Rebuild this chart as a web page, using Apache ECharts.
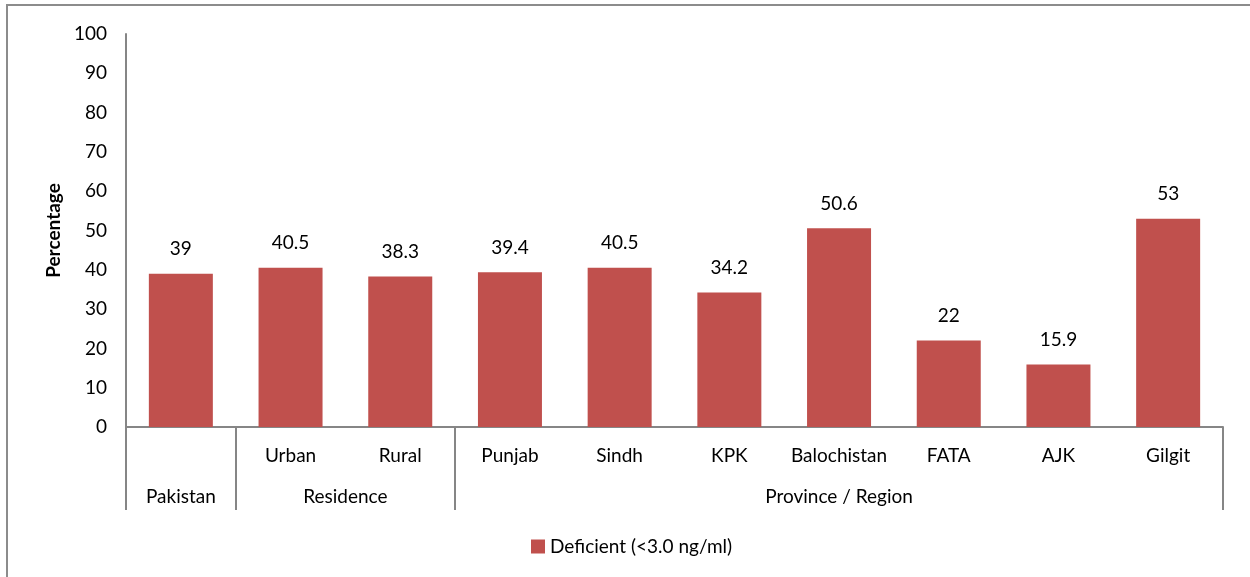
<!DOCTYPE html>
<html><head><meta charset="utf-8">
<script src="https://cdn.jsdelivr.net/npm/echarts@6/dist/echarts.min.js"></script>
<style>html,body{margin:0;padding:0;background:#fff}#c{width:1250px;height:577px}</style>
</head><body><div id="c"></div>
<script>
const categories = ['', 'Urban', 'Rural', 'Punjab', 'Sindh', 'KPK', 'Balochistan', 'FATA', 'AJK', 'Gilgit'];
const values = [39, 40.5, 38.3, 39.4, 40.5, 34.2, 50.6, 22, 15.9, 53];
const groupNames = ['Pakistan', 'Residence', 'Province / Region'];
const groupBounds = [0, 1, 3, 10];
const groupCenters = [0.5, 2, 6.5];
const seriesName = 'Deficient (<3.0 ng/ml)';
const FONT = 'Lato';
const FS = 19;
const chart = echarts.init(document.getElementById('c'));
chart.setOption({
  animation: false,
  textStyle: {fontFamily: FONT},
  graphic: [{type: 'rect', shape: {x: 7, y: 5, width: 1300, height: 700}, style: {fill: 'none', stroke: '#8c8c8c', lineWidth: 2}, silent: true}],
  grid: {left: 126, right: 27, top: 34, bottom: 150},
  legend: {left: 526, top: 532, itemWidth: 14, itemHeight: 14, itemGap: 4, icon: 'rect',
    textStyle: {fontFamily: FONT, fontSize: FS, color: '#000'}, data: [seriesName]},
  xAxis: [{
    type: 'category', data: categories, position: 'bottom',
    axisLine: {show: true, lineStyle: {color: '#868686', width: 2}},
    axisTick: {show: false},
    axisLabel: {color: '#000', fontSize: FS, margin: 19, fontFamily: FONT, interval: 0}
  }, {
    type: 'value', min: 0, max: 10, position: 'bottom',
    axisLine: {show: false},
    axisTick: {show: true, customValues: groupBounds, length: 83, lineStyle: {color: '#868686', width: 2}},
    splitLine: {show: false},
    axisLabel: {customValues: groupCenters, color: '#000', fontSize: FS, margin: 60, fontFamily: FONT,
      formatter: v => groupNames[groupCenters.indexOf(v)] || ''}
  }],
  yAxis: {
    type: 'value', min: 0, max: 100, interval: 10,
    name: 'Percentage', nameLocation: 'middle', nameGap: 60, nameRotate: 90,
    nameTextStyle: {fontWeight: 'bold', fontSize: 19, color: '#000', fontFamily: FONT},
    axisLine: {show: true, lineStyle: {color: '#868686', width: 2}},
    axisTick: {show: false},
    splitLine: {show: false},
    axisLabel: {color: '#000', fontSize: FS, margin: 19, fontFamily: FONT}
  },
  series: [{
    type: 'bar', name: seriesName, data: values, barWidth: 64, xAxisIndex: 0,
    itemStyle: {color: '#C0504D'},
    label: {show: true, position: 'top', distance: 15, color: '#000', fontSize: FS, fontFamily: FONT}
  }]
});
</script></body></html>
